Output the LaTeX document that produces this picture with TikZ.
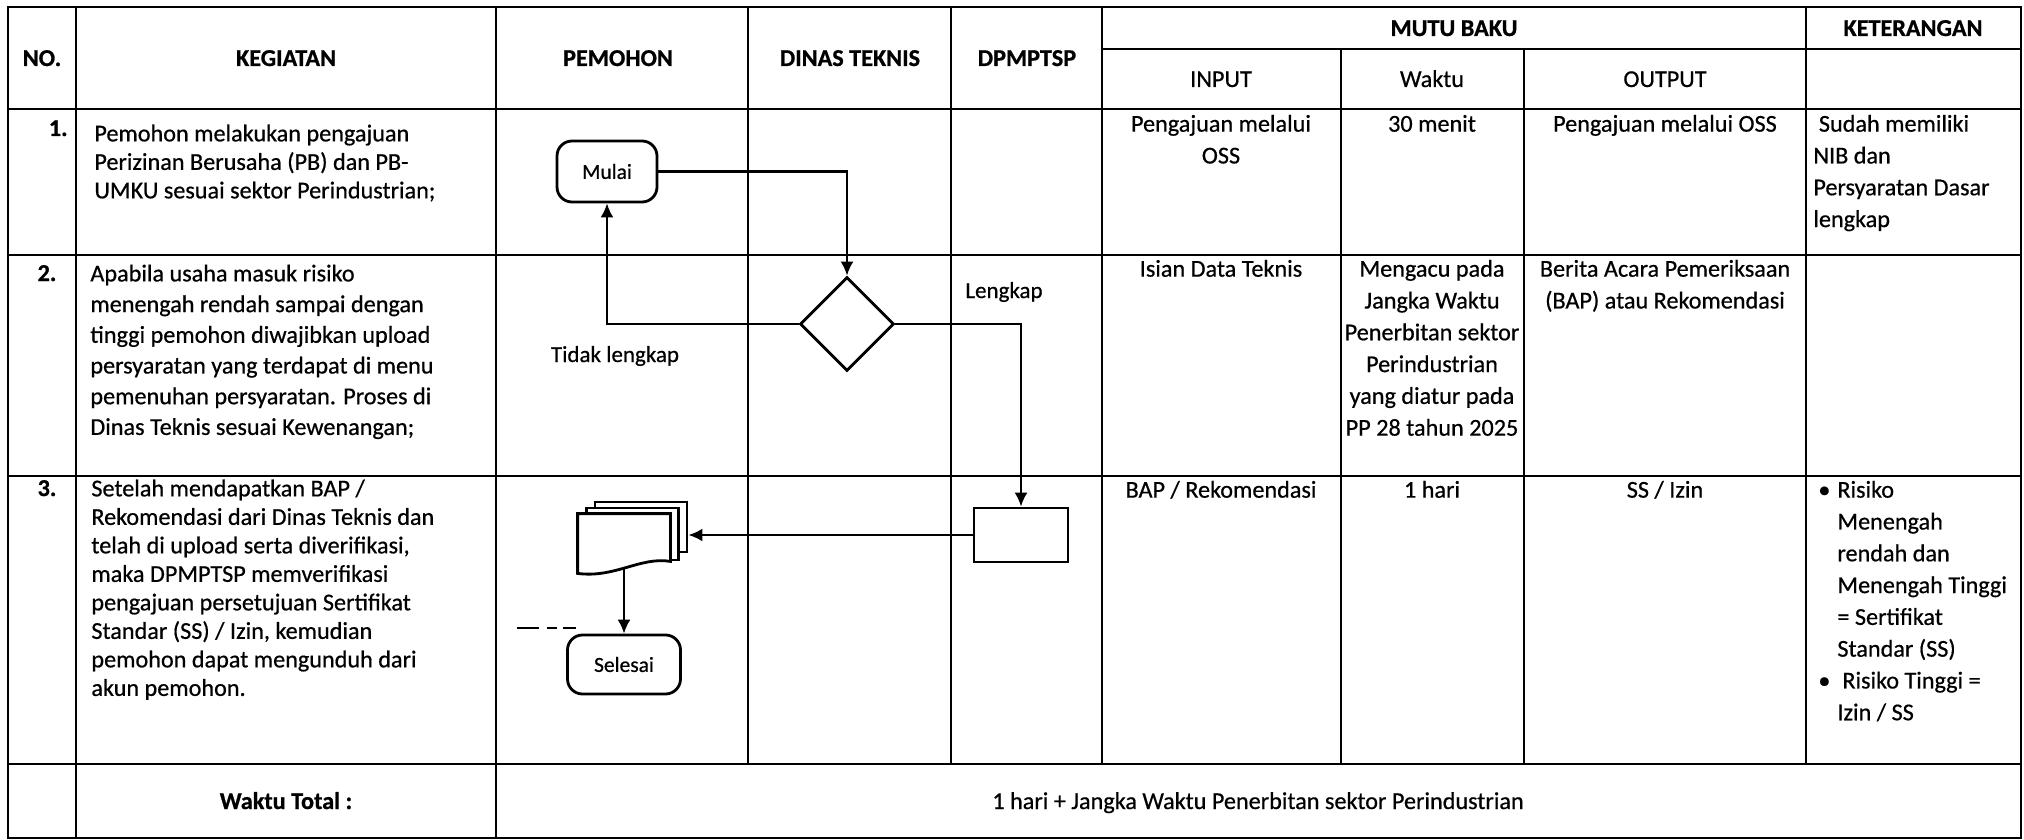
\documentclass[tikz,border=0pt]{standalone}
\usepackage{fontspec}
\setmainfont{Carlito}[UprightFeatures={FakeBold=0.6}, BoldFeatures={FakeBold=0.8}]
\usetikzlibrary{shapes.geometric, positioning, calc, arrows.meta}
\newcommand{\tabfont}{\fontsize{12.1}{15.9}\selectfont}
\newcommand{\kegfont}{\fontsize{12.1}{14.25}\selectfont}
\newcommand{\kegfontb}{\fontsize{12.1}{15.35}\selectfont}
\tikzstyle{myarrow} = [-{Latex[length=7pt,width=6.5pt]}, line width=1.1pt]
\tikzstyle{tabline} = [line width=1.35pt]
\tikzstyle{headtext} = [inner sep=0pt, anchor=base, font=\tabfont\bfseries]
\tikzstyle{subhead} = [inner sep=0pt, anchor=base, font=\tabfont]
\tikzstyle{kegtext} = [inner sep=0pt, anchor=north west, align=left, font=\kegfont]
\tikzstyle{celltext} = [inner sep=0pt, anchor=north, align=center, font=\tabfont]
\tikzstyle{lefttext} = [inner sep=0pt, anchor=north west, align=left, font=\tabfont]
\tikzstyle{terminal} = [rectangle, rounded corners=7.5pt, draw=black, line width=1.4pt, fill=white, font=\fontsize{10.75}{12}\selectfont]
\tikzstyle{decision} = [diamond, draw=black, line width=1.4pt, fill=white, inner sep=0pt, minimum size=47pt]
\tikzstyle{process} = [rectangle, draw=black, line width=1.4pt, fill=white, minimum width=47pt, minimum height=27pt]
\tikzstyle{sheet} = [rectangle, draw=black, line width=1.4pt, fill=white, inner sep=0pt]
\tikzstyle{flowlabel} = [inner sep=0pt, font=\fontsize{11.5}{13}\selectfont]

\begin{document}
\begin{tikzpicture}[x=0.5pt, y=-0.5pt]
\useasboundingbox (0,0) rectangle (2024,840);

\draw[tabline] (8,7) rectangle (2021,838);
\draw[tabline] (8,109) -- (2021,109) (8,255) -- (2021,255) (8,476) -- (2021,476) (8,764) -- (2021,764) (1102,49) -- (2021,49);
\draw[tabline] (76,7) -- (76,838) (496,7) -- (496,838);
\draw[tabline] (748,7) -- (748,764) (951,7) -- (951,764) (1102,7) -- (1102,764) (1806,7) -- (1806,764);
\draw[tabline] (1341,49) -- (1341,764) (1524,49) -- (1524,764);

\node (hno) [headtext] at (42,66) {NO.};
\node (hkeg) [headtext] at (286,66) {KEGIATAN};
\node (hpem) [headtext] at (618,66) {PEMOHON};
\node (hdin) [headtext] at (850,66) {DINAS TEKNIS};
\node (hdpm) [headtext] at (1027,66) {DPMPTSP};
\node (hmutu) [headtext] at (1454,36) {MUTU BAKU};
\node (hket) [headtext] at (1913,36) {KETERANGAN};
\node (hin) [subhead] at (1221,87) {INPUT};
\node (hwkt) [subhead] at (1432,87) {Waktu};
\node (hout) [subhead] at (1665,87) {OUTPUT};

\node (no1) [headtext, anchor=base east] at (68,136) {1.};
\node (keg1) [kegtext] at (94,121) {\strut Pemohon melakukan pengajuan\\Perizinan Berusaha (PB) dan PB-\\UMKU sesuai sektor Perindustrian;};
\node (in1) [celltext] at (1221,109) {\strut Pengajuan melalui\\OSS};
\node (wkt1) [celltext] at (1432,109) {\strut 30 menit};
\node (out1) [celltext] at (1665,109) {\strut Pengajuan melalui OSS};
\node (ket1) [lefttext] at (1813,109) {\strut\hspace{2.75pt}Sudah memiliki\\NIB dan\\Persyaratan Dasar\\lengkap};

\node (no2) [headtext] at (47,281) {2.};
\node (keg2) [kegtext, font=\kegfontb] at (90,259.5) {\strut Apabila usaha masuk risiko\\menengah rendah sampai dengan\\tinggi pemohon diwajibkan upload\\persyaratan yang terdapat di menu\\pemenuhan persyaratan. Proses di\\Dinas Teknis sesuai Kewenangan;};
\node (in2) [celltext] at (1221,254) {\strut Isian Data Teknis};
\node (wkt2) [celltext] at (1432,254) {\strut Mengacu pada\\Jangka Waktu\\Penerbitan sektor\\Perindustrian\\yang diatur pada\\PP 28 tahun 2025};
\node (out2) [celltext] at (1665,254) {\strut Berita Acara Pemeriksaan\\(BAP) atau Rekomendasi};

\node (no3) [headtext] at (47,496) {3.};
\node (keg3) [kegtext] at (91,476) {\strut Setelah mendapatkan BAP /\\Rekomendasi dari Dinas Teknis dan\\telah di upload serta diverifikasi,\\maka DPMPTSP memverifikasi\\pengajuan persetujuan Sertifikat\\Standar (SS) / Izin, kemudian\\pemohon dapat mengunduh dari\\akun pemohon.};
\node (in3) [celltext] at (1221,475) {\strut BAP / Rekomendasi};
\node (wkt3) [celltext] at (1432,475) {\strut 1 hari};
\node (out3) [celltext] at (1665,475) {\strut SS / Izin};
\node (ket3) [lefttext] at (1837,475) {\strut\llap{\textbullet\hspace{3.5pt}}Risiko\\Menengah\\rendah dan\\Menengah Tinggi\\= Sertifikat\\Standar (SS)\\\llap{\textbullet\hspace{3.5pt}}\hspace{2.5pt}Risiko Tinggi =\\Izin / SS};

\node (total) [headtext] at (286,809) {Waktu Total :};
\node (totalval) [subhead] at (1258,809) {1 hari + Jangka Waktu Penerbitan sektor Perindustrian};

\node (mulai) [terminal, minimum width=50pt, minimum height=30.5pt] at (607,171.5) {Mulai};
\node (cek) [decision] at (847,324) {};
\node (bap) [process] at (1021,535) {};
\node (docback) [sheet, minimum width=46pt, minimum height=25pt] at (641,527) {};
\node (docmid) [sheet, minimum width=46pt, minimum height=26pt] at (632.5,534) {};
\node (docfront) [inner sep=0pt, minimum width=46pt, minimum height=29.5pt] at (624,543.5) {};
\draw [line width=1.4pt, fill=white] (docfront.south west) -- (docfront.north west) -- (docfront.north east) -- ($(docfront.south east)+(0,-12)$) .. controls +(-30,-5) and +(37,5) .. (docfront.south west) -- cycle;
\node (selesai) [terminal, minimum width=56.5pt, minimum height=29.5pt] at (624,664.5) {Selesai};
\node (lengkap) [flowlabel] at (1004,292) {Lengkap};
\node (tidak) [flowlabel] at (615,356) {Tidak lengkap};

\draw [myarrow] (mulai.east) -| (cek.north);
\draw [myarrow] (cek.west) -| (mulai.south);
\draw [myarrow] (cek.east) -| (bap.north);
\draw [myarrow] (bap.west) -- (bap.west -| docback.east);
\draw [myarrow] ($(docfront.south)+(0,-4)$) -- (selesai.north);
\draw [line width=0.8pt, dash pattern=on 11pt off 4pt on 5pt off 3pt on 7pt] (517,628) -- (576,628);
\end{tikzpicture}
\end{document}
